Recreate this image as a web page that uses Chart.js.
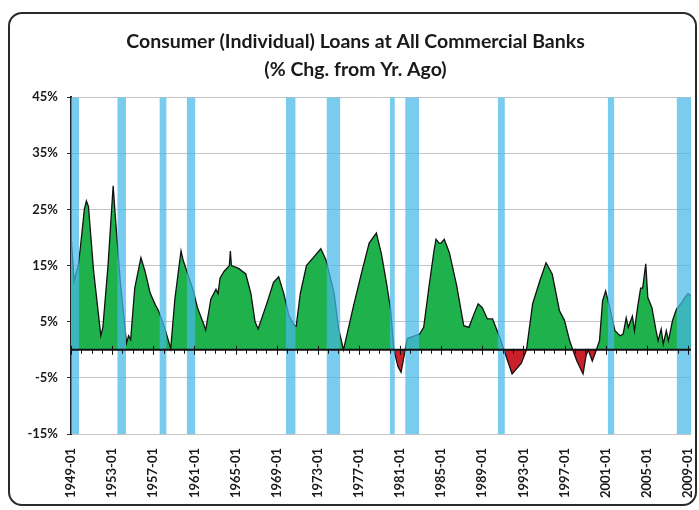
<!DOCTYPE html>
<html>
<head>
<meta charset="utf-8">
<script src="https://cdn.jsdelivr.net/npm/chart.js@4.4.0/dist/chart.umd.min.js"></script>
<style>
  html, body { margin: 0; padding: 0; background: #fff; }
  body { width: 699px; height: 510px; position: relative; overflow: hidden; }
  #frame {
    position: absolute; left: 8px; top: 12px; width: 689px; height: 494px;
    border: 2px solid #2a2a2a; border-radius: 14px; box-sizing: border-box;
  }
  #wrap { position: absolute; left: 0; top: 0; width: 699px; height: 510px; }
</style>
</head>
<body>
<div id="frame"></div>
<div id="wrap"><canvas id="chart"></canvas></div>
<script>
// ---------------- DATA ----------------
// decimal years and % change
const years = [
  1949.0, 1949.3, 1949.7, 1949.9, 1950.3, 1950.5, 1950.7, 1951.2, 1951.9, 1952.1,
  1952.6, 1953.1, 1953.3, 1953.8, 1954.4, 1954.6, 1954.8, 1955.2, 1955.8, 1956.2,
  1956.7, 1957.2, 1957.5, 1958.1, 1958.7, 1959.1, 1959.7, 1959.9, 1960.9, 1961.3,
  1961.9, 1962.1, 1962.6, 1963.1, 1963.3, 1963.5, 1963.9, 1964.4, 1964.5, 1964.6,
  1965.3, 1966.0, 1966.5, 1966.9, 1967.2, 1968.0, 1968.7, 1969.2, 1969.7, 1970.2,
  1970.7, 1970.9, 1971.3, 1971.9, 1972.6, 1973.3, 1973.8, 1974.6, 1975.0, 1975.5,
  1976.5, 1977.3, 1978.0, 1978.7, 1979.2, 1979.7, 1980.1, 1980.4, 1980.8, 1981.1,
  1981.5, 1981.7, 1982.9, 1983.3, 1983.8, 1984.3, 1984.5, 1984.8, 1985.0, 1985.3,
  1985.8, 1986.5, 1987.2, 1987.7, 1988.2, 1988.6, 1989.0, 1989.5, 1990.0, 1990.7,
  1991.1, 1991.9, 1992.8, 1993.3, 1993.9, 1994.6, 1995.2, 1995.8, 1996.5, 1997.0,
  1997.5, 1997.8, 1998.2, 1998.8, 1999.1, 1999.3, 1999.7, 2000.1, 2000.4, 2000.7,
  2001.0, 2001.4, 2001.9, 2002.4, 2002.7, 2003.0, 2003.2, 2003.6, 2003.8, 2004.1,
  2004.4, 2004.6, 2004.9, 2005.1, 2005.5, 2005.9, 2006.1, 2006.4, 2006.6, 2006.9,
  2007.1, 2007.5, 2007.9, 2008.4, 2008.7, 2009.0, 2009.3
];
const pctChg = [
  20.5, 12.3, 15.0, 18.0, 25.0, 26.5, 25.5, 14.0, 2.5, 4.0,
  15.0, 29.2, 24.0, 12.0, 1.2, 2.5, 1.8, 11.0, 16.4, 14.0,
  10.1, 8.0, 7.0, 4.0, 0.2, 9.0, 17.6, 16.0, 10.5, 7.5,
  4.6, 3.5, 9.0, 10.8, 10.0, 12.8, 14.0, 15.0, 17.6, 15.0,
  14.5, 13.5, 10.0, 5.0, 3.7, 8.0, 12.0, 13.0, 10.0, 6.0,
  4.4, 4.2, 10.0, 15.0, 16.5, 18.0, 16.0, 10.0, 4.0, 0.0,
  8.0, 14.0, 19.0, 20.8, 17.0, 11.7, 7.0, 0.0, -3.0, -4.0,
  0.0, 2.0, 2.8, 4.0, 11.0, 17.6, 19.7, 19.0, 19.0, 19.7,
  17.3, 11.5, 4.3, 4.0, 6.4, 8.2, 7.5, 5.5, 5.5, 2.2,
  0.0, -4.3, -2.4, 0.0, 8.2, 12.3, 15.5, 13.5, 7.0, 5.2,
  1.6, 0.0, -2.0, -4.3, -1.0, 0.0, -2.0, 0.0, 1.6, 8.7,
  10.5, 7.5, 3.4, 2.5, 2.8, 5.7, 4.0, 6.0, 3.4, 7.5,
  11.0, 11.0, 15.3, 9.3, 7.5, 3.4, 1.6, 3.7, 1.0, 3.4,
  1.6, 5.2, 7.3, 8.4, 9.3, 10.0, 9.6
];

// recessions (start / end, decimal years)
const recStart = [1948.85, 1953.5, 1957.6, 1960.25, 1969.9, 1973.85, 1980.0, 1981.5, 1990.5, 2001.2, 2007.9];
const recEnd   = [1949.8, 1954.35, 1958.3, 1961.1, 1970.85, 1975.2, 1980.5, 1982.85, 1991.2, 2001.85, 2009.5];

const xTickYears = [1949, 1953, 1957, 1961, 1965, 1969, 1973, 1977, 1981, 1985, 1989, 1993, 1997, 2001, 2005, 2009];
const yTicks = [-15, -5, 5, 15, 25, 35, 45];

// ---------------- DATASETS ----------------
const recessionSets = recStart.map((s, i) => ({
  type: "line",
  data: [{ x: s, y: 45 }, { x: recEnd[i], y: 45 }],
  fill: "start",
  backgroundColor: "rgba(70,184,232,0.72)",
  borderWidth: 0,
  pointRadius: 0,
  order: 0
}));

const loanSet = {
  type: "line",
  data: years.map((y, i) => ({ x: y, y: pctChg[i] })),
  borderColor: "#111",
  borderWidth: 1.3,
  pointRadius: 0,
  tension: 0,
  fill: { target: "origin", above: "#1fb24c", below: "#c9202a" },
  order: 1
};

// zero line with yearly tick marks (category axis of the original)
const zeroAxis = {
  id: "zeroAxis",
  afterDatasetsDraw(chart) {
    const { ctx, chartArea, scales } = chart;
    const y0 = scales.y.getPixelForValue(0);
    ctx.save();
    ctx.strokeStyle = "#111";
    ctx.lineWidth = 2;
    ctx.beginPath();
    ctx.moveTo(chartArea.left, y0);
    ctx.lineTo(chartArea.right, y0);
    ctx.stroke();
    ctx.lineWidth = 1;
    for (let yr = 1949; yr <= 2009; yr++) {
      const x = Math.round(scales.x.getPixelForValue(yr)) + 0.5;
      const major = xTickYears.includes(yr);
      ctx.beginPath();
      ctx.moveTo(x, y0 - (major ? 4 : 1));
      ctx.lineTo(x, y0 + (major ? 5 : 4));
      ctx.stroke();
    }
    ctx.restore();
  }
};

const ctx = document.getElementById("chart").getContext("2d");
new Chart(ctx, {
  data: { datasets: [...recessionSets, loanSet] },
  plugins: [zeroAxis],
  options: {
    responsive: true,
    maintainAspectRatio: false,
    animation: false,
    layout: { padding: { top: 28, left: 12, right: 0, bottom: 0 } },
    plugins: {
      legend: { display: false },
      tooltip: { enabled: false },
      title: {
        display: true,
        text: ["Consumer (Individual) Loans at All Commercial Banks", "(% Chg. from Yr. Ago)"],
        color: "#1a1a1a",
        font: { family: "Lato", size: 19.5, weight: "bold", lineHeight: 1.44 },
        padding: { top: 0, bottom: 13 }
      }
    },
    scales: {
      x: {
        type: "linear",
        min: 1949,
        max: 2009.3,
        afterBuildTicks: (scale) => { scale.ticks = xTickYears.map(v => ({ value: v })); },
        afterFit: (scale) => {
          scale.height = 76;
          scale.paddingLeft = 0;
          scale.paddingRight = 8;
        },
        grid: { display: false },
        border: { display: false },
        ticks: {
          autoSkip: false,
          minRotation: 90,
          maxRotation: 90,
          padding: 6,
          color: "#1a1a1a",
          font: { family: "Lato", size: 13, weight: "bold" },
          callback: (v) => v + "-01"
        }
      },
      y: {
        min: -15,
        max: 45,
        afterBuildTicks: (scale) => { scale.ticks = yTicks.map(v => ({ value: v })); },
        afterFit: (scale) => { scale.width = 59; },
        grid: { color: "#c4c4c4", lineWidth: 1, tickColor: "#333", tickLength: 4 },
        border: { color: "#222", width: 2 },
        ticks: {
          padding: 9,
          color: "#1a1a1a",
          font: { family: "Lato", size: 13, weight: "bold" },
          callback: (v) => v + "%"
        }
      }
    }
  }
});
</script>
</body>
</html>
